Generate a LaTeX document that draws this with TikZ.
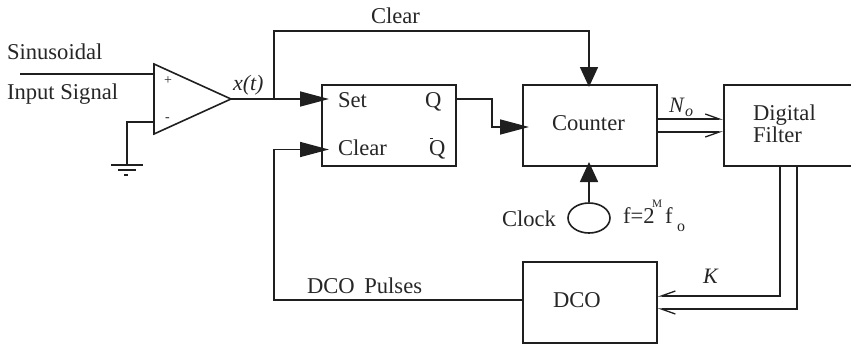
\documentclass[tikz,border=0pt]{standalone}
\usepackage{fontspec}
\setmainfont{Liberation Serif}
\usetikzlibrary{arrows.meta,calc,shapes.geometric}
\tikzset{
  wire/.style={line width=1.6pt,draw=black!88,line join=miter},
  block/.style={wire,rectangle,minimum width=#1,minimum height=81pt,inner sep=0pt,anchor=north west},
  solidtip/.style={wire,-{Triangle[length=29pt,width=15pt,fill=black!88]}},
  vtip/.style={wire,-{Triangle[length=20pt,width=18pt,fill=black!88]}},
  bararrow/.style={wire,-{Straight Barb[harpoon,length=14pt,width=10pt,line width=1.3pt]}},
  barrow/.style={wire,-{Straight Barb[harpoon,swap,length=14pt,width=10pt,line width=1.3pt]}},
  lbl/.style={anchor=base west,inner sep=0pt,outer sep=0pt,text=black!85,font=\fontsize{22.6}{24}\selectfont},
  lbli/.style={lbl,font=\fontsize{22}{24}\selectfont\itshape},
  small/.style={lbl,font=\fontsize{14}{16}\selectfont},
  tiny/.style={lbl,font=\fontsize{11.3}{13}\selectfont},
  mid/.style={lbl,font=\fontsize{16}{18}\selectfont},
  midi/.style={lbl,font=\fontsize{16}{18}\selectfont\itshape},
}
\begin{document}
\begin{tikzpicture}[x=1pt,y=-1pt]
\useasboundingbox (0,0) rectangle (851,346);
% blocks
\node[block=134pt] (ff) at (321,84) {};
\node[block=134pt] (counter) at (522,84) {};
\node[block=130pt] (filter) at (723,84) {};
\node[block=134pt] (dco) at (522,261) {};
\node[wire,ellipse,minimum width=42pt,minimum height=30pt,inner sep=0pt] (clk) at (589,218) {};
% comparator
\coordinate (ta) at (154,64);
\coordinate (tb) at (154,134);
\coordinate (tc) at (231,99);
\draw[wire] (ta) -- (tb) -- (tc) -- cycle;
% free ends and ports
\coordinate (insrc) at (20,74);
\coordinate (inp) at (154,74);
\coordinate (inn) at (154,122);
\coordinate (gndtop) at (127,165);
\coordinate (setp) at (329,99);
\coordinate (clrp) at (329,149.5);
\coordinate (qout) at (455,99);
\coordinate (cntin) at (529,127);
\coordinate (cnttop) at (589,87);
\coordinate (cntbot) at (589,162);
\coordinate (split) at (274,99);
% connectors
\draw[wire] (insrc) -- (inp);
\draw[wire] (inn) -| (gndtop);
\draw[wire] (111,165) -- (143,165);
\draw[wire] (118,170) -- (136,170);
\draw[wire] (124,175) -- (128,175);
\draw[solidtip] (tc) -- (setp);
\draw[vtip] (split) |- (400,31) -| (cnttop);
\draw[solidtip] (qout) -- (492,99) |- (cntin);
\draw[vtip] (clk.north) -- (cntbot);
\draw[solidtip] (dco.west |- 0,300) -- (274,300) |- (clrp);
\draw[bararrow] (counter.east |- 0,119) -- (filter.west |- 0,119);
\draw[barrow] (counter.east |- 0,132) -- (filter.west |- 0,132);
\draw[barrow] (filter.south -| 780,0) |- (dco.east |- 0,296);
\draw[bararrow] (filter.south -| 797,0) |- (dco.east |- 0,309);
\draw[line width=1pt,draw=black!85] (429.5,138) -- (433,138);
% labels
\node[lbl] (t1) at (7,59) {Sinusoidal};
\node[lbl] (t2) at (7,99) {Input Signal};
\node[small] (t3) at (164,84) {+};
\node[small] (t4) at (165,121) {-};
\node[lbli] (t5) at (233,90) {x(t)};
\node[lbl] (t6) at (371,23) {Clear};
\node[lbl] (t7) at (338,107) {Set};
\node[lbl] (t8) at (425,107) {Q};
\node[lbl] (t9) at (338,155) {Clear};
\node[lbl] (t10) at (429,155) {Q};
\node[lbl] (t12) at (552,130) {Counter};
\node[lbli] (t13) at (669,112) {N};
\node[midi] (t14) at (685,116) {o};
\node[lbl] (t15) at (753,120) {Digital};
\node[lbl] (t16) at (753,142) {Filter};
\node[lbl] (t17) at (502,226) {Clock};
\node[lbl] (t18) at (623,223) {f=2};
\node[tiny] (t19) at (652,207) {M};
\node[lbl] (t20) at (665,223) {f};
\node[mid] (t21) at (677,231) {o};
\node[lbli] (t22) at (703,283) {K};
\node[lbl] (t23) at (553,307) {DCO};
\node[lbl] (t24) at (307,293) {DCO\hspace{4pt} Pulses};
\end{tikzpicture}
\end{document}
